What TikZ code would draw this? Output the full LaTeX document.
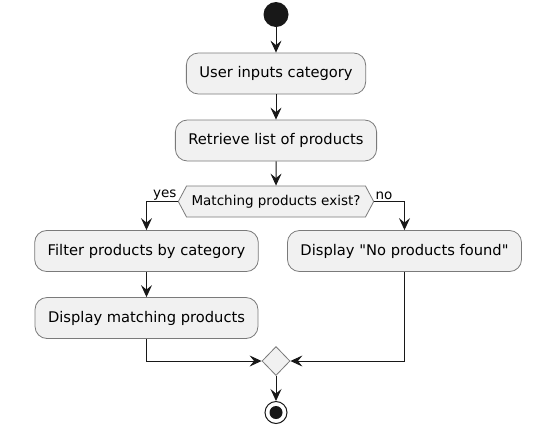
\documentclass[tikz,border=0pt]{standalone}
\usepackage{fontspec}
\setmainfont{DejaVu Sans}
\usepackage{tikz}
\usetikzlibrary{arrows.meta,shapes.geometric,shapes.symbols,positioning}
\usepackage{xcolor}
\definecolor{actfill}{HTML}{F1F1F1}
\definecolor{actline}{HTML}{181818}
\definecolor{actborder}{HTML}{7A7A7A}

\begin{document}
\begin{tikzpicture}[x=1bp, y=-1bp,
    every node/.style={font=\fontsize{14.7bp}{17bp}\selectfont},
    action/.style={draw=actborder, line width=0.8bp, fill=actfill, rounded corners=12bp,
        minimum height=41bp, inner xsep=13bp, inner ysep=0pt},
    decide/.style={signal, signal to=west and east, signal pointer angle=124,
        draw=actborder, line width=0.8bp, fill=actfill, minimum height=31bp,
        inner xsep=5bp, inner ysep=0pt, font=\fontsize{13.5bp}{16bp}\selectfont},
    guard/.style={font=\fontsize{13.5bp}{16bp}\selectfont, inner sep=1bp},
    flow/.style={draw=actline, line width=1bp,
        -{Stealth[length=12bp, width=11bp, inset=4.5bp]}}]
    \useasboundingbox (0,0) rectangle (544,430);
    \fill[white] (0,0) rectangle (544,430);

    % Start and main chain
    \node[circle, fill=actline, minimum size=25bp, inner sep=0pt] (start) at (276,14.5) {};
    \node[action] (input) at (276,73.5) {User inputs category};
    \node[action] (retrieve) at (276,140.5) {Retrieve list of products};
    \node[decide] (check) at (276,201.5) {Matching products exist?};

    % Branches
    \node[action] (filter) at (146.5,251) {Filter products by category};
    \node[action] (showmatch) at (146.5,318) {Display matching products};
    \node[action] (nofound) at (404.5,251) {Display \textquotedbl No products found\textquotedbl};

    % Merge and stop
    \node[diamond, draw=actborder, line width=0.8bp, fill=actfill, minimum width=28bp,
        minimum height=29bp, inner sep=0pt] (merge) at (276,361) {};
    \node[circle, draw=actline, line width=1bp, fill=white, minimum size=22bp, inner sep=0pt,
        path picture={\fill[actline] (path picture bounding box.center) circle (6.5bp);}]
        (stop) at (276,412.5) {};

    % Connectors
    \foreach \a/\b in {start/input, input/retrieve, retrieve/check, filter/showmatch, merge/stop}
        \draw[flow] (\a) -- (\b);
    \draw[flow] (check.west) -| (filter.north) node[guard, pos=0, anchor=south east] {yes};
    \draw[flow] (check.east) -| (nofound.north) node[guard, pos=0, anchor=south west] {no};
    \draw[flow] (showmatch.south) |- (merge.west);
    \draw[flow] (nofound.south) |- (merge.east);
\end{tikzpicture}
\end{document}
